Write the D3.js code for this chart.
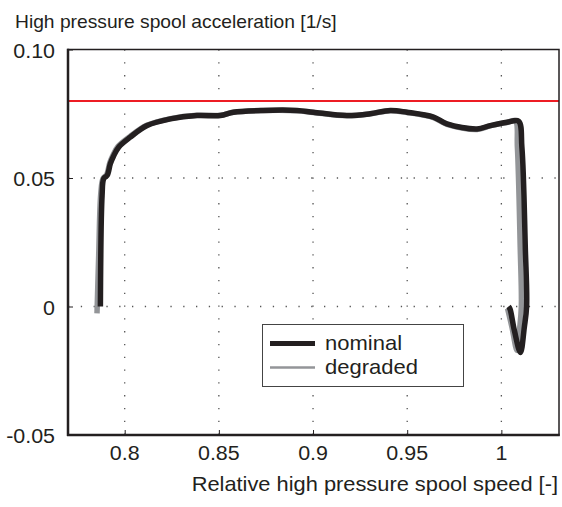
<!DOCTYPE html>
<html><head><meta charset="utf-8">
<script src="https://cdn.jsdelivr.net/npm/d3@7"></script>
<style>body{margin:0;background:#fff;} svg{display:block;}</style>
</head><body>
<svg id="c" width="562" height="507"></svg>
<script>
const xTicks = [0.8, 0.85, 0.9, 0.95, 1];
const xTickLabels = ["0.8", "0.85", "0.9", "0.95", "1"];
const yTicks = [-0.05, 0, 0.05, 0.10];
const yTickLabels = ["-0.05", "0", "0.05", "0.10"];
const limitValue = 0.08;
const seriesNames = ["nominal", "degraded"];

const nominal = [
 [0.7871,0.0000],[0.7880,0.0432],[0.7889,0.0498],[0.7907,0.0510],[0.7924,0.0556],
 [0.7940,0.0584],[0.7968,0.0620],[0.8030,0.0659],[0.8119,0.0704],[0.8243,0.0730],
 [0.8384,0.0743],[0.8508,0.0743],[0.8577,0.0756],[0.8736,0.0763],[0.8915,0.0763],
 [0.9002,0.0756],[0.9180,0.0743],[0.9304,0.0750],[0.9410,0.0763],[0.9499,0.0756],
 [0.9640,0.0737],[0.9711,0.0711],[0.9871,0.0691],[0.9941,0.0704],[1.0030,0.0717],
 [1.0091,0.0721],[1.0109,0.0620],[1.0127,0.0231],[1.0134,0.0000],[1.0122,-0.0080],
 [1.0101,-0.0179],[1.0069,-0.0093],[1.0046,-0.0010],[1.0038,0.0000]
];
const degraded = [
 [0.7853,-0.0027],[0.7862,0.0200],[0.7873,0.0440],[0.7885,0.0498],[0.7904,0.0513],
 [0.7921,0.0560],[0.7937,0.0588],[0.7965,0.0623],[0.8027,0.0661],[0.8117,0.0705],
 [0.8243,0.0731],[0.8384,0.0744],[0.8508,0.0744],[0.8577,0.0756],[0.8736,0.0763],
 [0.8915,0.0762],[0.9002,0.0755],[0.9180,0.0742],[0.9304,0.0750],[0.9410,0.0762],
 [0.9499,0.0755],[0.9640,0.0735],[0.9711,0.0709],[0.9871,0.0689],[0.9941,0.0703],
 [1.0030,0.0716],[1.0074,0.0722],[1.0085,0.0620],[1.0100,0.0231],[1.0106,0.0000],
 [1.0097,-0.0085],[1.0083,-0.0171],[1.0056,-0.0080],[1.0033,-0.0008]
];

const W = 562, H = 507;
const m = {left: 68, right: 559, top: 49.5, bottom: 435};
const x = d3.scaleLinear().domain([0.7699, 1.0306]).range([m.left, m.right]);
const y = d3.scaleLinear().domain([-0.05, 0.10]).range([m.bottom, m.top]);
const ink = "#231f20";
const svg = d3.select("#c");
const font = "Liberation Sans, Arial, sans-serif";

function txt(g, px, py, s, anchor, size, sx) {
  return g.append("text")
    .attr("transform", `translate(${px},${py}) scale(${sx},1)`)
    .attr("font-family", font).attr("font-size", size)
    .attr("fill", ink).attr("text-anchor", anchor || "start").text(s);
}

// gridlines
const grid = svg.append("g");
grid.selectAll(".vg").data(xTicks).join("line")
  .attr("x1", d => x(d)).attr("x2", d => x(d))
  .attr("y1", m.top).attr("y2", m.bottom)
  .attr("stroke", "#555").attr("stroke-width", 1.3).attr("stroke-dasharray", "1.3,11.5");
grid.selectAll(".hg").data([0, 0.05]).join("line")
  .attr("x1", m.left).attr("x2", m.right)
  .attr("y1", d => y(d)).attr("y2", d => y(d))
  .attr("stroke", "#555").attr("stroke-width", 1.3).attr("stroke-dasharray", "1.3,11.5");

// limit line
svg.append("line").attr("x1", m.left).attr("x2", m.right)
  .attr("y1", y(limitValue)).attr("y2", y(limitValue))
  .attr("stroke", "#ed1c24").attr("stroke-width", 2);

// curves
const line = d3.line().x(d => x(d[0])).y(d => y(d[1])).curve(d3.curveCatmullRom.alpha(0.5));
svg.append("path").datum(degraded).attr("d", line).attr("fill", "none")
  .attr("stroke", "#939598").attr("stroke-width", 5.5).attr("stroke-linejoin", "round");
svg.append("path").datum(nominal).attr("d", line).attr("fill", "none")
  .attr("stroke", ink).attr("stroke-width", 5.5).attr("stroke-linejoin", "round").attr("stroke-linecap", "butt");

// frame
svg.append("rect").attr("x", m.left).attr("y", m.top)
  .attr("width", m.right - m.left).attr("height", m.bottom - m.top)
  .attr("fill", "none").attr("stroke", ink).attr("stroke-width", 1.5);
svg.append("line").attr("x1", m.left).attr("x2", m.left).attr("y1", m.top - 0.75).attr("y2", m.bottom + 1)
  .attr("stroke", ink).attr("stroke-width", 2.5);
svg.append("line").attr("x1", m.left - 1).attr("x2", m.right + 0.75).attr("y1", m.bottom).attr("y2", m.bottom)
  .attr("stroke", ink).attr("stroke-width", 2.5);

// axes ticks (inward)
const xAxis = d3.axisBottom(x).tickValues(xTicks).tickSize(-5).tickFormat("");
svg.append("g").attr("transform", `translate(0,${m.bottom})`).call(xAxis)
  .call(g => g.select(".domain").remove())
  .call(g => g.selectAll("line").attr("stroke", ink));
const yAxis = d3.axisLeft(y).tickValues(yTicks).tickSize(-5).tickFormat("");
svg.append("g").attr("transform", `translate(${m.left},0)`).call(yAxis)
  .call(g => g.select(".domain").remove())
  .call(g => g.selectAll("line").attr("stroke", ink));

// tick labels
const lab = svg.append("g");
xTicks.forEach((v, i) => txt(lab, x(v), 460, xTickLabels[i], "middle", 19.5, 1.1));
yTicks.forEach((v, i) => txt(lab, 55, y(v) + 8, yTickLabels[i], "end", 19.5, 1.1));

// titles
txt(svg, 15, 28, "High pressure spool acceleration [1/s]", "start", 18.5, 1.04);
txt(svg, 558, 490.5, "Relative high pressure spool speed [-]", "end", 21, 1.04);

// legend
const lg = svg.append("g");
lg.append("rect").attr("x", 262.5).attr("y", 324.5).attr("width", 201).attr("height", 62)
  .attr("fill", "#fff").attr("stroke", "#444").attr("stroke-width", 1);
lg.append("line").attr("x1", 270).attr("x2", 315).attr("y1", 343.5).attr("y2", 343.5)
  .attr("stroke", ink).attr("stroke-width", 5);
lg.append("line").attr("x1", 270).attr("x2", 315).attr("y1", 367.5).attr("y2", 367.5)
  .attr("stroke", "#939598").attr("stroke-width", 2.5);
txt(lg, 325, 350, seriesNames[0], "start", 20, 1.1);
txt(lg, 325, 374, seriesNames[1], "start", 20, 1.1);
</script>
</body></html>
